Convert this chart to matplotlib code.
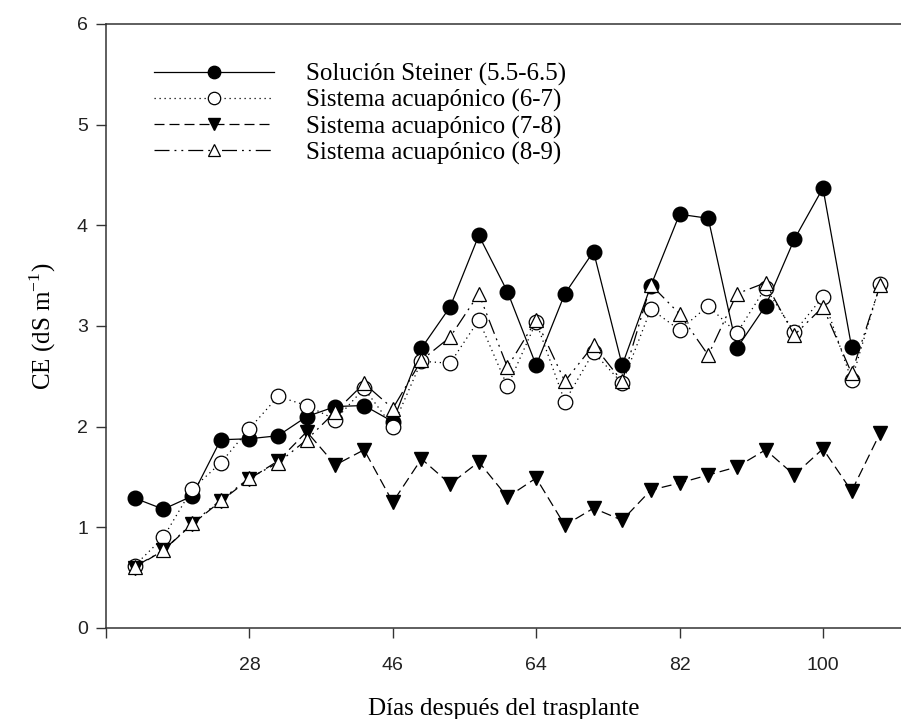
#!/usr/bin/env python3
# -*- coding: utf-8 -*-
"""
CE of the nutrient solution vs days after transplant
"""

import matplotlib.pyplot as plt
import numpy as np

# Days after transplant (sampling dates)
dias = [13.6, 17.2, 20.8, 24.4, 28.0, 31.6, 35.2, 38.8, 42.4, 46.0,
        49.6, 53.2, 56.8, 60.4, 64.0, 67.6, 71.2, 74.8, 78.4, 82.0,
        85.6, 89.2, 92.8, 96.4, 100.0, 103.6, 107.2]

# CE (dS m-1) of each treatment
steiner = [1.29, 1.18, 1.31, 1.87, 1.88, 1.91, 2.10, 2.20, 2.21, 2.05,
           2.78, 3.19, 3.90, 3.34, 2.61, 3.32, 3.74, 2.61, 3.40, 4.11,
           4.07, 2.78, 3.20, 3.86, 4.37, 2.79, np.nan]
acua_67 = [0.62, 0.90, 1.38, 1.64, 1.98, 2.30, 2.21, 2.07, 2.38, 2.00,
           2.65, 2.63, 3.06, 2.40, 3.04, 2.25, 2.74, 2.43, 3.17, 2.96,
           3.20, 2.93, 3.38, 2.94, 3.29, 2.46, 3.42]
acua_78 = [0.60, 0.77, 1.03, 1.26, 1.48, 1.66, 1.95, 1.62, 1.77, 1.25,
           1.68, 1.43, 1.65, 1.30, 1.49, 1.02, 1.19, 1.07, 1.37, 1.44,
           1.52, 1.60, 1.77, 1.52, 1.78, 1.36, 1.94]
acua_89 = [0.61, 0.77, 1.04, 1.27, 1.49, 1.64, 1.87, 2.15, 2.43, 2.18,
           2.66, 2.89, 3.32, 2.59, 3.06, 2.45, 2.81, 2.45, 3.41, 3.12,
           2.71, 3.32, 3.43, 2.91, 3.19, 2.53, 3.41]

etiquetas = ["Solución Steiner (5.5-6.5)",
             "Sistema acuapónico (6-7)",
             "Sistema acuapónico (7-8)",
             "Sistema acuapónico (8-9)"]

xticks = [10, 28, 46, 64, 82, 100]
xtick_labels = ["", "28", "46", "64", "82", "100"]

serif = ["Liberation Serif", "DejaVu Serif"]
sans = ["Liberation Sans", "DejaVu Sans"]

fig = plt.figure(figsize=(9.01, 7.19), dpi=100)
ax = fig.add_axes([106/901, 1 - 628/719, 1 - 106/901, (628 - 24)/719])

lw = 0.9
ms = 10.5
ax.plot(dias, steiner, color="black", lw=lw, ls="-", marker="o", ms=ms,
        mfc="black", mec="black", label=etiquetas[0])
ax.plot(dias, acua_67, color="black", lw=lw, ls=(0, (1, 3)), marker="o", ms=ms,
        mfc="white", mec="black", mew=0.9, label=etiquetas[1])
ax.plot(dias, acua_78, color="black", lw=lw, ls=(0, (8, 4)), marker="v", ms=ms,
        mfc="black", mec="black", label=etiquetas[2])
ax.plot(dias, acua_89, color="black", lw=lw, ls=(0, (12, 4, 1.5, 4, 1.5, 4)),
        marker="^", ms=ms, mfc="white", mec="black", mew=0.9, label=etiquetas[3])

# Axis ranges
ax.set_xlim(10, 109.8)
ax.set_ylim(0, 6)

ax.set_xticks(xticks)
ax.set_xticklabels(xtick_labels)
ax.set_yticks(np.arange(0, 7, 1))

for lab in ax.get_xticklabels() + ax.get_yticklabels():
    lab.set_family(sans)
    lab.set_fontsize(14)
    lab.set_color("#222222")

ax.tick_params(direction="out", length=7, width=1, color="#333333", pad=6)
ax.tick_params(axis="x", pad=14)
for s in ["left", "bottom", "top"]:
    ax.spines[s].set_linewidth(1.1)
    ax.spines[s].set_color("#333333")
ax.spines["right"].set_visible(False)

# Plot labels
ax.set_xlabel("Días después del trasplante", family=serif, fontsize=18, labelpad=17)
ax.set_ylabel(r"CE (dS m$^{\mathregular{-1}}$)", family=serif, fontsize=18, labelpad=14)

leg = ax.legend(loc="upper left", bbox_to_anchor=(0.06, 0.935), frameon=False,
                prop={"family": serif, "size": 18}, handlelength=4.8,
                handletextpad=1.3, labelspacing=0.12, markerscale=0.85,
                borderaxespad=0, borderpad=0)

plt.savefig("out.png", dpi=100)
